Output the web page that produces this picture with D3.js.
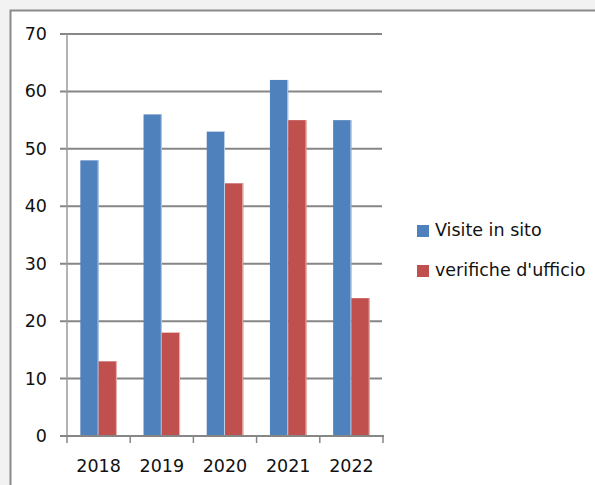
<!DOCTYPE html>
<html>
<head>
<meta charset="utf-8">
<script src="https://cdn.jsdelivr.net/npm/d3@7"></script>
<style>
  body { margin: 0; background: #f2f2f2; }
  svg { display: block; }
</style>
</head>
<body>
<svg id="chart" width="595" height="485"></svg>
<script>
const years = ["2018", "2019", "2020", "2021", "2022"];
const visite = [48, 56, 53, 62, 55];
const verifiche = [13, 18, 44, 55, 24];
const seriesNames = ["Visite in sito", "verifiche d'ufficio"];
const colors = ["#4f81bd", "#c0504d"];
const edgeColors = ["#b9cfe8", "#e8b9b8"];
const yTicks = [0, 10, 20, 30, 40, 50, 60, 70];

const svg = d3.select("#chart");
const font = "DejaVu Sans";
const fs = 17.5;
const textColor = "#111";

// white chart area with grey frame (runs off right and bottom)
svg.append("rect")
  .attr("x", 10.5).attr("y", 10.5)
  .attr("width", 600).attr("height", 500)
  .attr("fill", "#fff")
  .attr("stroke", "#8a8a8a")
  .attr("stroke-width", 2);

const x = d3.scaleBand().domain(years).range([67, 383]);
const x1 = d3.scaleBand().domain([0, 1]).range([0, x.bandwidth()]).paddingOuter(0.73);
const y = d3.scaleLinear().domain([0, 70]).range([436, 34]);

// gridlines
svg.append("g")
  .selectAll("line")
  .data(yTicks.filter(d => d > 0))
  .join("line")
  .attr("x1", 60).attr("x2", 382)
  .attr("y1", d => y(d)).attr("y2", d => y(d))
  .attr("stroke", "#868686")
  .attr("stroke-width", 2);

// y labels
svg.append("g")
  .selectAll("text")
  .data(yTicks)
  .join("text")
  .attr("x", 47)
  .attr("y", d => y(d) + 6)
  .attr("text-anchor", "end")
  .attr("font-family", font)
  .attr("font-size", fs)
  .attr("fill", textColor)
  .text(d => d);

// bars
const rows = years.map((yr, i) => ({ year: yr, vals: [visite[i], verifiche[i]] }));
const grp = svg.append("g")
  .selectAll("g")
  .data(rows)
  .join("g")
  .attr("transform", d => `translate(${x(d.year)},0)`);

const bars = grp.selectAll("g")
  .data(d => d.vals.map((v, k) => ({ k, v })))
  .join("g");

bars.append("rect")
  .attr("x", d => x1(d.k))
  .attr("y", d => y(d.v))
  .attr("width", x1.bandwidth())
  .attr("height", d => y(0) - y(d.v))
  .attr("fill", d => colors[d.k]);

// thin light edge on the right of each bar
bars.append("rect")
  .attr("x", d => x1(d.k) + x1.bandwidth() - 1)
  .attr("y", d => y(d.v))
  .attr("width", 1)
  .attr("height", d => y(0) - y(d.v))
  .attr("fill", d => edgeColors[d.k]);

// y axis line
svg.append("line")
  .attr("x1", 67).attr("x2", 67)
  .attr("y1", y(70)).attr("y2", y(0))
  .attr("stroke", "#9a9a9a")
  .attr("stroke-width", 1.5);

// x axis line and ticks
svg.append("line")
  .attr("x1", 60).attr("x2", 384)
  .attr("y1", y(0)).attr("y2", y(0))
  .attr("stroke", "#868686")
  .attr("stroke-width", 2);

svg.append("g")
  .selectAll("line")
  .data(years.map(d => x(d)).concat([x.range()[1]]))
  .join("line")
  .attr("x1", d => d).attr("x2", d => d)
  .attr("y1", y(0)).attr("y2", y(0) + 7)
  .attr("stroke", "#868686")
  .attr("stroke-width", 1.5);

svg.append("g")
  .selectAll("text")
  .data(years)
  .join("text")
  .attr("x", d => x(d) + x.bandwidth() / 2)
  .attr("y", 472)
  .attr("text-anchor", "middle")
  .attr("font-family", font)
  .attr("font-size", fs)
  .attr("fill", textColor)
  .text(d => d);

// legend
const leg = svg.append("g")
  .selectAll("g")
  .data(seriesNames)
  .join("g")
  .attr("transform", (d, i) => `translate(417,${225 + i * 40})`);

leg.append("rect")
  .attr("width", 12).attr("height", 12)
  .attr("fill", (d, i) => colors[i]);

leg.append("text")
  .attr("x", 18).attr("y", 11)
  .attr("font-family", font)
  .attr("font-size", fs)
  .attr("fill", textColor)
  .text(d => d);
</script>
</body>
</html>
